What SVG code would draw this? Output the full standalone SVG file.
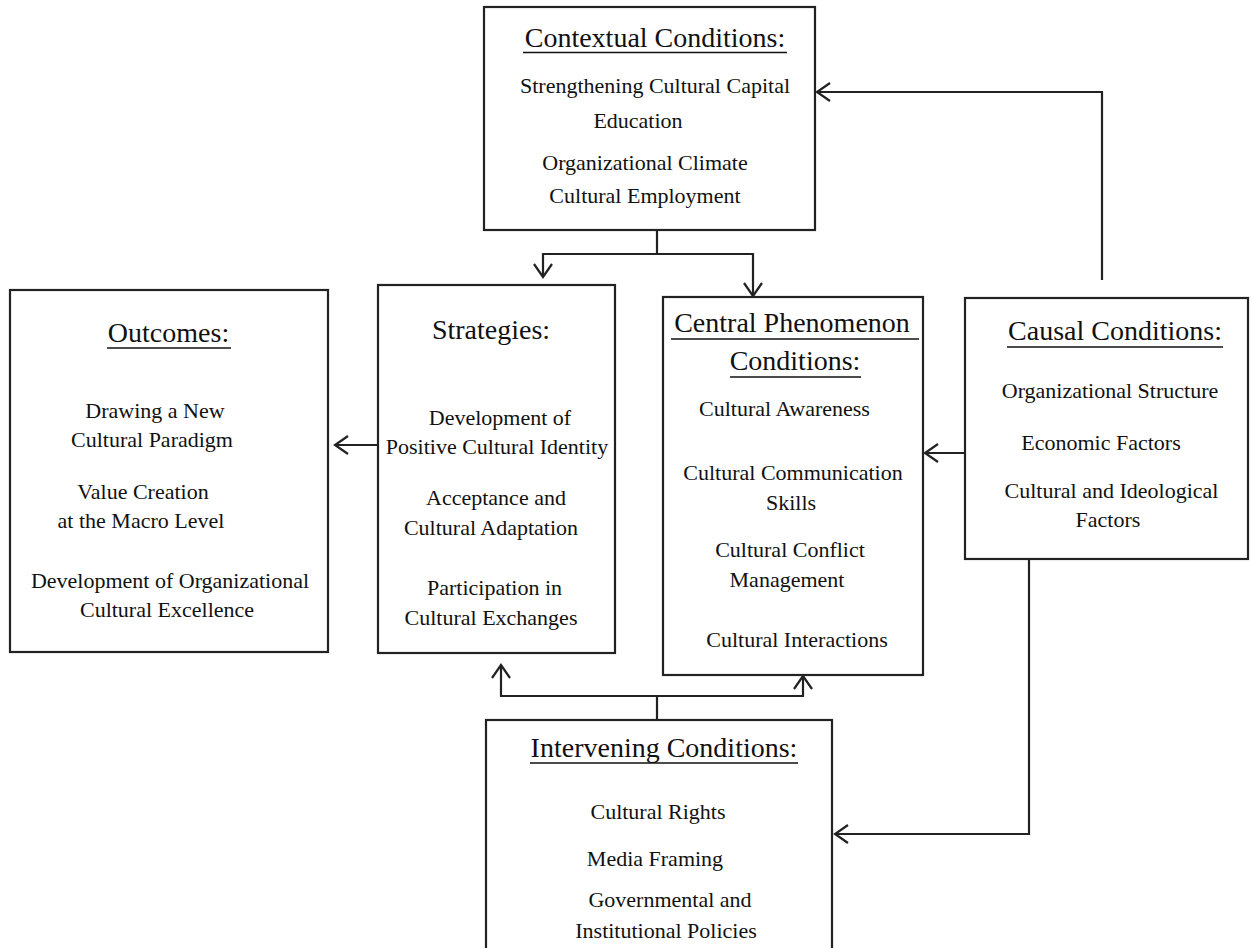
<svg xmlns="http://www.w3.org/2000/svg" width="1251" height="948" viewBox="0 0 1251 948">
<style>
  .box { fill: #ffffff; stroke: #222222; stroke-width: 2.2; }
  .title { font-family: "Liberation Serif", "Times New Roman", serif; font-size: 28px; fill: #111111; text-anchor: middle; }
  .body { font-family: "Liberation Serif", "Times New Roman", serif; font-size: 22px; fill: #111111; text-anchor: middle; }
  .ul { stroke: #111111; stroke-width: 1.6; }
  .conn { fill: none; stroke: #222222; stroke-width: 2.2; }
  .arrow { marker-end: url(#arr); }
</style>
<defs>
  <marker id="arr" markerUnits="userSpaceOnUse" viewBox="-15 -11 17 22" markerWidth="17" markerHeight="22" refX="0" refY="0" orient="auto">
    <path d="M -13 -9 L 0 0 L -13 9" fill="none" stroke="#222222" stroke-width="2.2"/>
  </marker>
</defs>
<rect width="1251" height="948" fill="#ffffff"/>

<g id="connectors">
  <path class="conn" d="M657,230 V254"/>
  <path class="conn arrow" d="M657,254 H543 V277"/>
  <path class="conn arrow" d="M657,254 H753 V296"/>
  <path class="conn arrow" d="M1102,280 V92 H817"/>
  <path class="conn arrow" d="M965,453 H925"/>
  <path class="conn arrow" d="M1029,559 V834 H835"/>
  <path class="conn arrow" d="M378,445 H335"/>
  <path class="conn" d="M657,720 V696"/>
  <path class="conn arrow" d="M657,696 H501 V665"/>
  <path class="conn arrow" d="M657,696 H803 V676"/>
</g>

<g id="contextual">
  <rect class="box" x="484" y="7" width="331" height="223"/>
  <text class="title" x="655" y="47">Contextual Conditions:</text>
  <line class="ul" x1="523" y1="52.5" x2="787" y2="52.5"/>
  <text class="body" x="655" y="93">Strengthening Cultural Capital</text>
  <text class="body" x="638" y="128">Education</text>
  <text class="body" x="645" y="170">Organizational Climate</text>
  <text class="body" x="645" y="203">Cultural Employment</text>
</g>

<g id="outcomes">
  <rect class="box" x="10" y="290" width="318" height="362"/>
  <text class="title" x="168.5" y="342">Outcomes:</text>
  <line class="ul" x1="107" y1="348" x2="231" y2="348"/>
  <text class="body" x="155" y="418">Drawing a New</text>
  <text class="body" x="152" y="447">Cultural Paradigm</text>
  <text class="body" x="143" y="499">Value Creation</text>
  <text class="body" x="141" y="528">at the Macro Level</text>
  <text class="body" x="170" y="588">Development of Organizational</text>
  <text class="body" x="167" y="617">Cultural Excellence</text>
</g>

<g id="strategies">
  <rect class="box" x="378" y="285" width="237" height="368"/>
  <text class="title" x="491" y="339">Strategies:</text>
  <text class="body" x="500" y="425">Development of</text>
  <text class="body" x="497" y="454">Positive Cultural Identity</text>
  <text class="body" x="496" y="505">Acceptance and</text>
  <text class="body" x="491" y="535">Cultural Adaptation</text>
  <text class="body" x="494.5" y="595">Participation in</text>
  <text class="body" x="491" y="625">Cultural Exchanges</text>
</g>

<g id="central">
  <rect class="box" x="663" y="297" width="260" height="378"/>
  <text class="title" x="792" y="332">Central Phenomenon</text>
  <line class="ul" x1="671" y1="339" x2="919" y2="339"/>
  <text class="title" x="795" y="370">Conditions:</text>
  <line class="ul" x1="730" y1="377" x2="861" y2="377"/>
  <text class="body" x="784.5" y="416">Cultural Awareness</text>
  <text class="body" x="793" y="480">Cultural Communication</text>
  <text class="body" x="791" y="510">Skills</text>
  <text class="body" x="790" y="557">Cultural Conflict</text>
  <text class="body" x="787" y="587">Management</text>
  <text class="body" x="797" y="647">Cultural Interactions</text>
</g>

<g id="causal">
  <rect class="box" x="965" y="298" width="283" height="261"/>
  <text class="title" x="1115" y="340">Causal Conditions:</text>
  <line class="ul" x1="1007" y1="347" x2="1223" y2="347"/>
  <text class="body" x="1110" y="398">Organizational Structure</text>
  <text class="body" x="1101" y="450">Economic Factors</text>
  <text class="body" x="1111.5" y="498">Cultural and Ideological</text>
  <text class="body" x="1108" y="527">Factors</text>
</g>

<g id="intervening">
  <rect class="box" x="486" y="720" width="346" height="240"/>
  <text class="title" x="664" y="757">Intervening Conditions:</text>
  <line class="ul" x1="530" y1="763" x2="798" y2="763"/>
  <text class="body" x="658" y="819">Cultural Rights</text>
  <text class="body" x="655" y="866">Media Framing</text>
  <text class="body" x="670" y="907">Governmental and</text>
  <text class="body" x="666" y="938">Institutional Policies</text>
</g>
</svg>
